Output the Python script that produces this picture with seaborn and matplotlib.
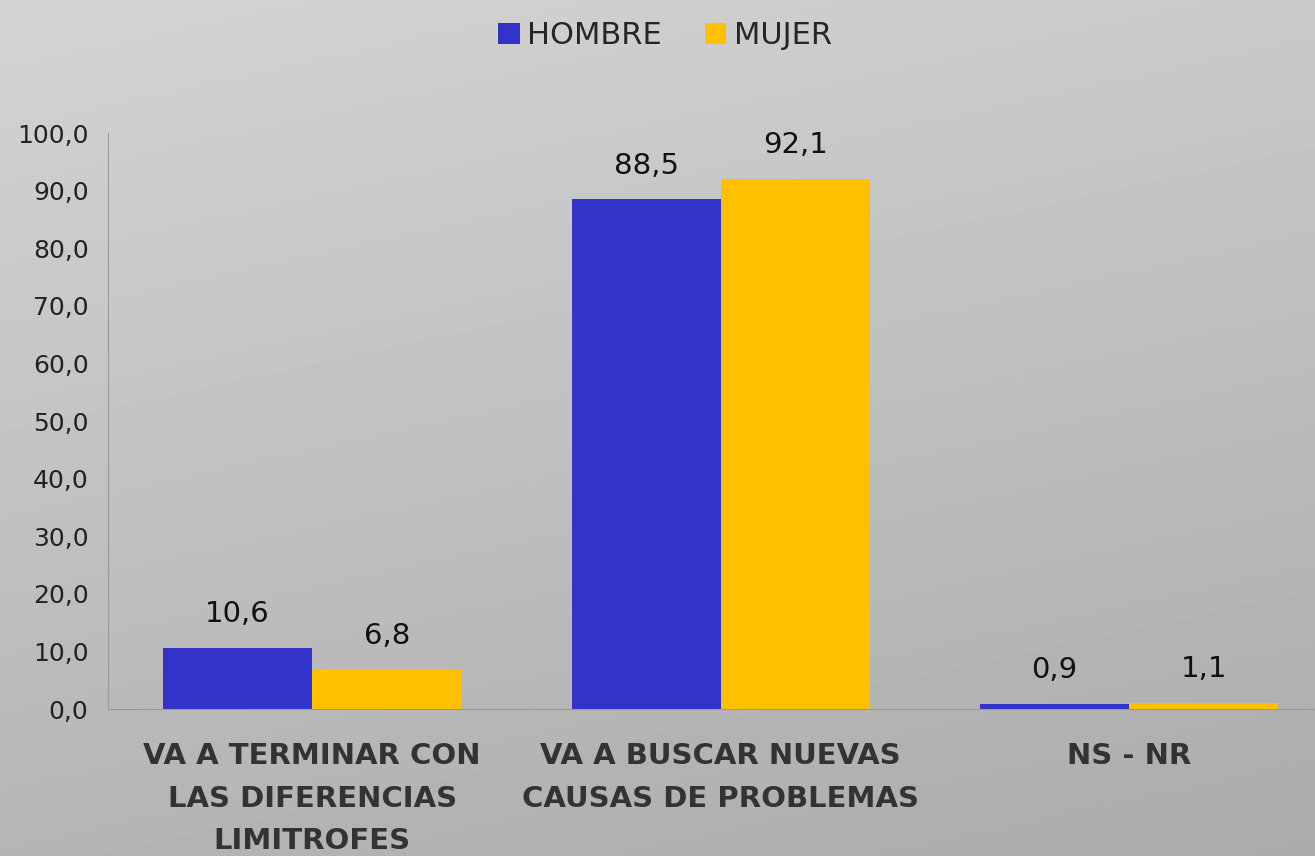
import numpy as np
import pandas as pd
import matplotlib
matplotlib.use("Agg")
import matplotlib.pyplot as plt
import seaborn as sns

# Data
categories = ["VA A TERMINAR CON\nLAS DIFERENCIAS\nLIMITROFES",
              "VA A BUSCAR NUEVAS\nCAUSAS DE PROBLEMAS",
              "NS - NR"]
hombre = [10.6, 88.5, 0.9]
mujer = [6.8, 92.1, 1.1]
series = ["HOMBRE", "MUJER"]
colors = ["#3333CC", "#FFC000"]
yticks = [0, 10, 20, 30, 40, 50, 60, 70, 80, 90, 100]

df = pd.DataFrame({
    "cat": categories * 2,
    "valor": hombre + mujer,
    "serie": [series[0]] * 3 + [series[1]] * 3,
})

sns.set_style("white")
plt.rcParams["font.family"] = ["DejaVu Sans"]

fig = plt.figure(figsize=(13.15, 8.56), dpi=100)

# gray gradient background
bg = fig.add_axes([0, 0, 1, 1], zorder=-10)
grad = np.linspace(0, 1, 256)
gx, gy = np.meshgrid(grad, grad)
shade = 0.83 - 0.12 * gy - 0.04 * gx
bg.imshow(shade, cmap="gray", vmin=0, vmax=1, aspect="auto", extent=[0, 1, 0, 1])
bg.axis("off")

ax = fig.add_axes([108 / 1315, 147 / 856, 1 - 108 / 1315, 576 / 856])
ax.patch.set_alpha(0)

sns.barplot(data=df, x="cat", y="valor", hue="serie", palette=colors,
            width=0.73, gap=0, saturation=1, linewidth=0, ax=ax)

for cont in ax.containers:
    labels = [f"{v:.1f}".replace(".", ",") for v in cont.datavalues]
    ax.bar_label(cont, labels=labels, padding=14, fontsize=21, color="#111111")

ax.set_ylim(0, 100)
ax.set_xlim(-0.5, 2.455)
ax.set_yticks(yticks)
ax.set_yticklabels([f"{t:.1f}".replace(".", ",") for t in yticks],
                   fontsize=18, color="#222222")
ax.tick_params(axis="x", labelsize=21, colors="#333333", length=0, pad=24)
for lab in ax.get_xticklabels():
    lab.set_fontweight("bold")
    lab.set_linespacing(1.65)
ax.tick_params(axis="y", length=0, pad=14)
ax.set_xlabel("")
ax.set_ylabel("")

for s in ["top", "right"]:
    ax.spines[s].set_visible(False)
ax.spines["left"].set_color("#999999")
ax.spines["bottom"].set_color("#999999")

sns.move_legend(ax, "upper center", bbox_to_anchor=(665 / 1315, 1.0),
                bbox_transform=fig.transFigure,
                ncol=2, frameon=False, title=None, fontsize=22,
                handlelength=0.7, handleheight=0.7, handletextpad=0.25,
                columnspacing=1.4, borderaxespad=0.3)

fig.savefig("out.png", dpi=100)
